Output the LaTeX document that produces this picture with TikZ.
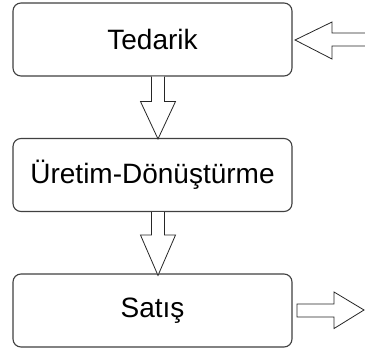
\documentclass[tikz,border=0pt]{standalone}
\usepackage{fontspec}
\setmainfont{Liberation Sans}
\usetikzlibrary{calc}
\begin{document}
\begin{tikzpicture}[x=1pt,y=1pt,
  boxst/.style={draw=black!75, line width=1.1pt, rounded corners=8pt, fill=white,
    minimum width=279pt, minimum height=73pt, inner sep=0pt, font=\fontsize{28}{32}\selectfont},
  blockarrow/.style={draw=black!85, line width=0.8pt, fill=white, line join=miter}]
\useasboundingbox (0,0) rectangle (365,-351);
\node[boxst] (t) at (152.5,-39.5) {Tedarik};
\node[boxst] (u) at (152.5,-175) {Üretim-Dönüştürme};
\node[boxst] (s) at (152.5,-310.5) {Satış};
\coordinate (inR) at (365,-40);
\coordinate (outR) at (364,-310);
% down arrow 1
\draw[blockarrow]
  ($(t.south)+(-1,0)$) -- ($(t.south)+(-1,-25)$) -- ($(t.south)+(-12,-25)$)
  -- ($(u.north)+(5.5,-1)$) -- ($(t.south)+(23,-25)$) -- ($(t.south)+(12,-25)$)
  -- ($(t.south)+(12,0)$);
% down arrow 2
\draw[blockarrow]
  ($(u.south)+(-1,0)$) -- ($(u.south)+(-1,-23)$) -- ($(u.south)+(-12,-23)$)
  -- ($(s.north)+(5.5,-2)$) -- ($(u.south)+(23,-23)$) -- ($(u.south)+(12,-23)$)
  -- ($(u.south)+(12,0)$);
% input arrow
\draw[blockarrow]
  ($(inR)+(0,7)$) -- ($(inR)+(-33,7)$) -- ($(inR)+(-33,18)$)
  -- ($(t.east)+(2.5,-0.5)$) -- ($(inR)+(-33,-19)$) -- ($(inR)+(-33,-6)$)
  -- ($(inR)+(0,-6)$);
% output arrow
\draw[blockarrow]
  ($(s.east)+(4.5,6.5)$) -- ($(s.east)+(41.5,6.5)$) -- ($(s.east)+(41.5,18.5)$)
  -- (outR) -- ($(s.east)+(41.5,-18)$) -- ($(s.east)+(41.5,-6.5)$)
  -- ($(s.east)+(4.5,-6.5)$) -- cycle;
\end{tikzpicture}
\end{document}
